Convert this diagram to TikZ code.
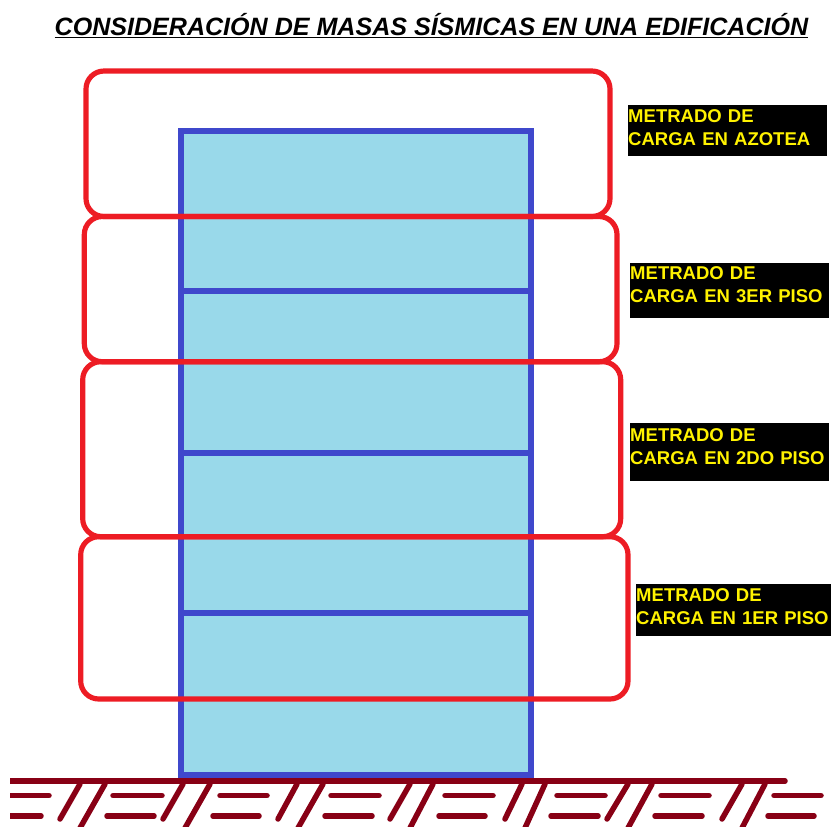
\documentclass[tikz,border=0pt]{standalone}
\usepackage{fontspec}
\setmainfont{Liberation Sans}
\usetikzlibrary{positioning}
\definecolor{masared}{HTML}{ED1C24}
\definecolor{wallblue}{HTML}{3F48CC}
\definecolor{floorfill}{HTML}{99D9EA}
\definecolor{soilred}{HTML}{880015}
\tikzstyle{mass} = [draw=masared, line width=0.155cm, rounded corners=0.54cm]
\tikzstyle{wall} = [draw=wallblue, line width=0.18cm]
\tikzstyle{soil} = [draw=soilred, line width=0.165cm, line cap=round]
\tikzstyle{tag} = [fill=black, text=yellow, font=\bfseries\fontsize{15.8}{19.6}\selectfont,
    align=left, anchor=north west, inner sep=0pt, minimum width=5.97cm, text width=5.97cm]

\begin{document}
\begin{tikzpicture}
\begin{scope}[x=0.03cm,y=-0.03cm]
    \useasboundingbox (0,0) rectangle (832,826);
    %title
    \node[font=\itshape\bfseries\fontsize{21.4}{24}\selectfont, inner sep=0pt] (title) at (431.5,26)
        {\underline{CONSIDERACIÓN DE MASAS SÍSMICAS EN UNA EDIFICACIÓN}};
    %building
    \draw[wall, fill=floorfill] (180.5,131) rectangle (530.5,775);
    \foreach \y in {291,453,613}
        \draw[wall] (180,\y) -- (531,\y);
    %masses
    \draw[mass] (86,71) rectangle (610,216.5);
    \draw[mass] (84.3,216.5) rectangle (617,361.7);
    \draw[mass] (82.7,361.7) rectangle (620.7,536.7);
    \draw[mass] (80.7,536.7) rectangle (628,699);
    %labels
    \node[tag, minimum height=1.53cm] (azotea) at (628,105) {METRADO DE\\CARGA EN AZOTEA\par\vspace{6pt}};
    \node[tag, minimum height=1.65cm] (piso3) at (630,263) {METRADO DE\\CARGA EN 3ER PISO\par\vspace{10pt}};
    \node[tag, minimum height=1.74cm] (piso2) at (630,423) {METRADO DE\\CARGA EN 2DO PISO\par\vspace{10pt}};
    \node[tag, minimum height=1.56cm, minimum width=5.85cm, text width=5.85cm] (piso1) at (636,584) {METRADO DE\\CARGA EN 1ER PISO\par\vspace{6pt}};
    %ground
    \begin{scope}
    \clip (10,770) rectangle (832,826);
    \draw[soil] (5,781) -- (785,781);
    \foreach \a/\b in {5/49,113/162,220/267,331/379,445/493,557/605,661/709,774/821}
        \draw[soil] (\a,795.6) -- (\b,795.6);
    \foreach \a/\b in {5/41,107/154,213/259,325/372,439/485,551/598,655/702,768/814}
        \draw[soil] (\a,816) -- (\b,816);
    \foreach \a/\b in {80/60,183/163,297/278,410/390,522/505,628/607,742/722}
        \draw[soil] (\a,784) -- (\b,819);
    \foreach \a/\b in {105/80,210/185,323/298,433/410,545/525,652/628,765/742}
        \draw[soil] (\a,784) -- (\b,828);
    \end{scope}
\end{scope}
\end{tikzpicture}
\end{document}
